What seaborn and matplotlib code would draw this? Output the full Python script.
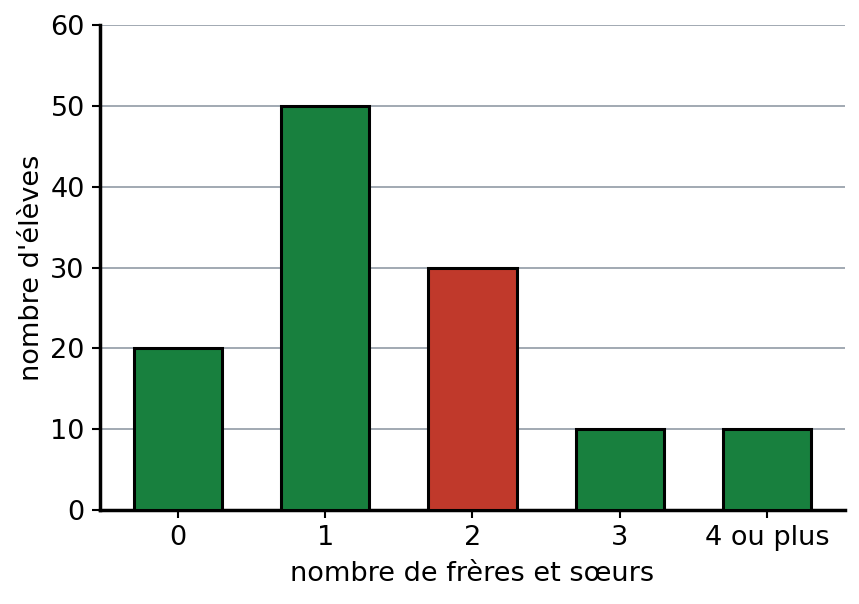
import pandas as pd
import numpy as np
import matplotlib
matplotlib.use("Agg")
import matplotlib.pyplot as plt
import seaborn as sns

categories = ["0", "1", "2", "3", "4 ou plus"]
counts = [20, 50, 30, 10, 10]
bar_colors = ["#18803e", "#18803e", "#c0392b", "#18803e", "#18803e"]

sns.set_style("white")
plt.rcParams["font.family"] = ["DejaVu Sans"]
plt.rcParams["text.color"] = "black"
plt.rcParams["axes.labelcolor"] = "black"
plt.rcParams["xtick.color"] = "black"
plt.rcParams["ytick.color"] = "black"

df = pd.DataFrame({"freres": categories, "eleves": counts})

fig = plt.figure(figsize=(8.59, 6.04), dpi=100)
ax = fig.add_axes([0.1164, 0.1556, 0.8673, 0.803])

sns.barplot(data=df, x="freres", y="eleves", hue="freres", palette=bar_colors,
            legend=False, width=0.6, edgecolor="black", linewidth=2.2,
            saturation=1, ax=ax, zorder=3)

ax.set_ylim(0, 60)
ax.set_yticks(np.arange(0, 61, 10))
ax.set_xlim(-0.53, 4.53)
ax.yaxis.grid(True, color="#9aa3ad", linewidth=1.3, zorder=0)
ax.set_axisbelow(True)

for s in ["top", "right"]:
    ax.spines[s].set_visible(False)
for s in ["left", "bottom"]:
    ax.spines[s].set_linewidth(2.5)
    ax.spines[s].set_color("black")

ax.tick_params(axis="both", labelsize=19.5, length=6, width=1.5,
               direction="out", bottom=True, left=True, pad=5)
ax.set_xlabel("nombre de frères et sœurs", fontsize=19.5, labelpad=7)
ax.set_ylabel("nombre d'élèves", fontsize=19.5, labelpad=4)

fig.savefig("out.png", dpi=100)
